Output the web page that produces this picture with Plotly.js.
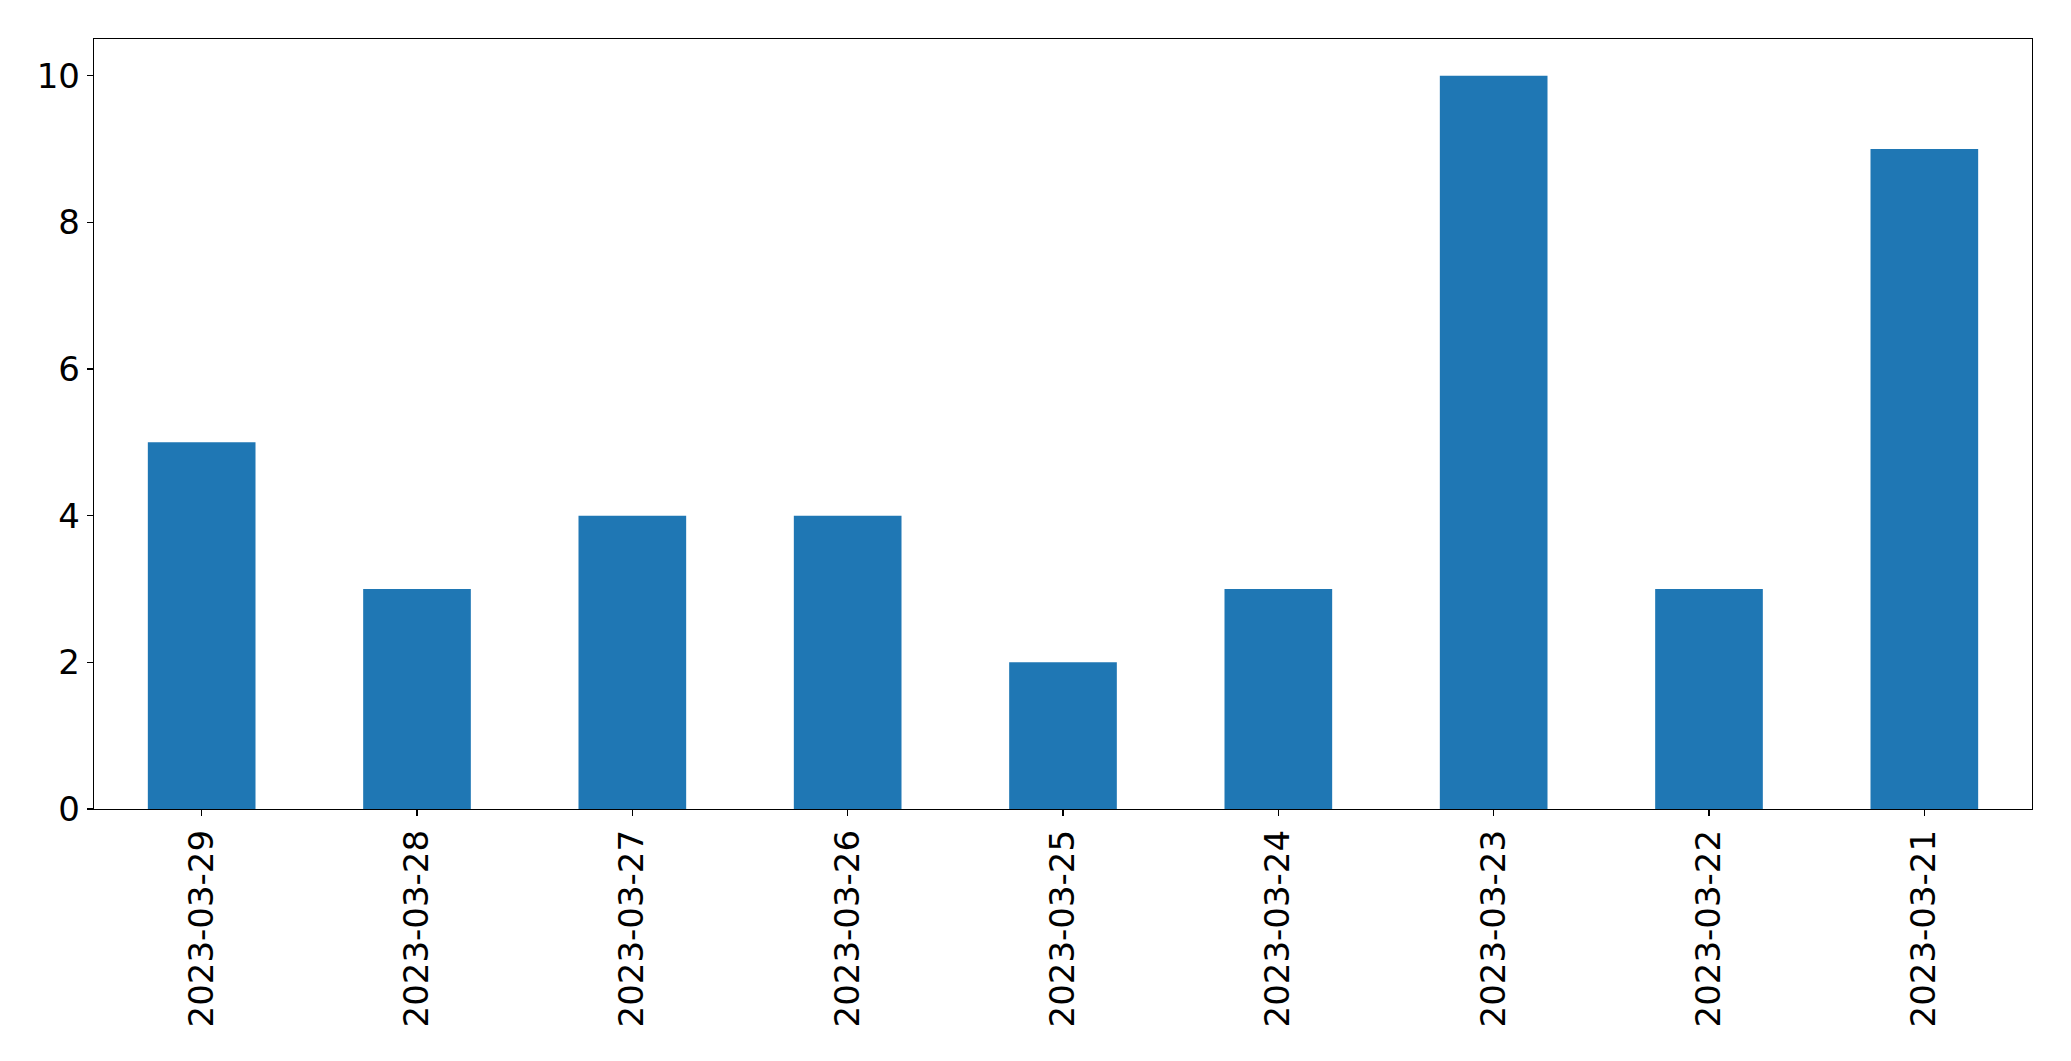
<!DOCTYPE html>
<html>
<head>
<meta charset="utf-8">
<script src="https://cdn.plot.ly/plotly-3.0.1.min.js"></script>
<style>html,body{margin:0;padding:0;background:#fff;}#chart{width:2071px;height:1061px;}</style>
</head>
<body>
<div id="chart"></div>
<script>
const dates = ["2023-03-29","2023-03-28","2023-03-27","2023-03-26","2023-03-25","2023-03-24","2023-03-23","2023-03-22","2023-03-21"];
const counts = [5, 3, 4, 4, 2, 3, 10, 3, 9];
const yTicks = [0, 2, 4, 6, 8, 10];

const trace = {
  type: 'bar',
  x: dates,
  y: counts,
  width: 0.5,
  marker: {color: '#1f77b4', line: {width: 0}},
  hoverinfo: 'x+y'
};

const layout = {
  width: 2071,
  height: 1061,
  margin: {l: 94, r: 39, t: 39, b: 252},
  paper_bgcolor: '#fff',
  plot_bgcolor: '#fff',
  showlegend: false,
  font: {family: 'DejaVu Sans', size: 34, color: '#000'},
  xaxis: {
    type: 'category',
    range: [-0.5, 8.5],
    tickangle: -90,
    ticks: 'outside',
    ticklen: 6,
    tickwidth: 1.3,
    tickcolor: '#000',
    showline: true,
    linecolor: '#000',
    linewidth: 1.3,
    mirror: true,
    showgrid: false,
    zeroline: false,
    tickfont: {family: 'DejaVu Sans', size: 34, color: '#000'}
  },
  yaxis: {
    range: [0, 10.5],
    tickvals: yTicks,
    ticktext: yTicks.map(String),
    ticks: 'outside',
    ticklen: 6,
    tickwidth: 1.3,
    tickcolor: '#000',
    showline: true,
    linecolor: '#000',
    linewidth: 1.3,
    mirror: true,
    showgrid: false,
    zeroline: false,
    tickfont: {family: 'DejaVu Sans', size: 34, color: '#000'}
  }
};

Plotly.newPlot('chart', [trace], layout, {displayModeBar: false, staticPlot: true});
</script>
</body>
</html>
